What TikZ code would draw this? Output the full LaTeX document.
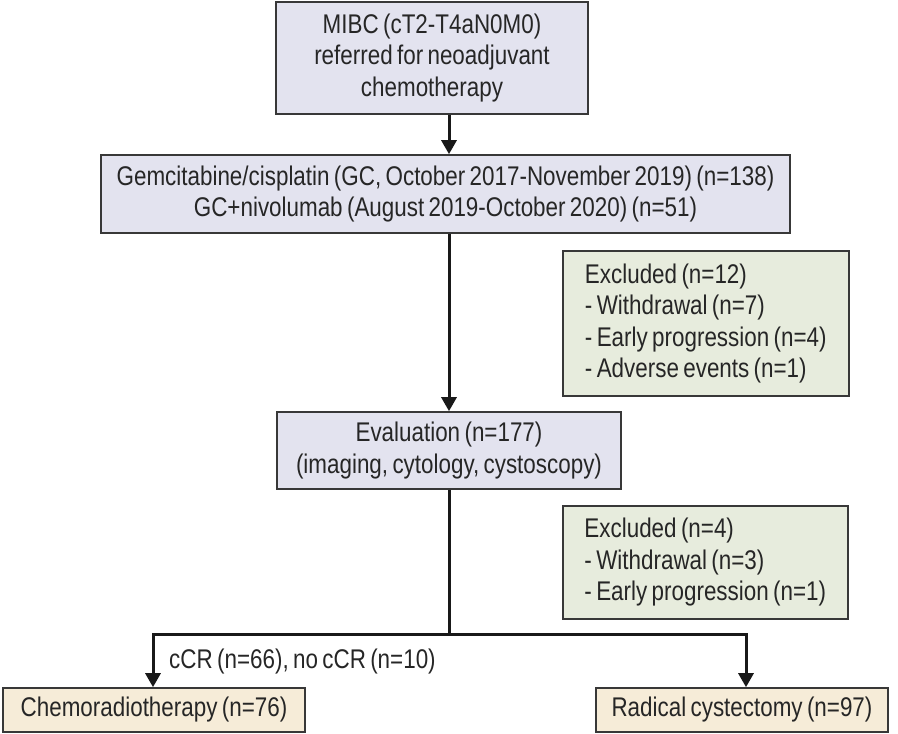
\documentclass[tikz,border=0pt]{standalone}
\usepackage{fontspec}
\setmainfont[FakeStretch=0.83,WordSpace=0.7]{Liberation Sans}
\usepackage{tikz}
\usetikzlibrary{arrows.meta,positioning}
\definecolor{boxline}{HTML}{383838}
\definecolor{lavender}{HTML}{E3E3EF}
\definecolor{sage}{HTML}{E7ECDD}
\definecolor{wheat}{HTML}{F6ECD8}
\tikzset{
  flowbox/.style={draw=boxline,line width=1.6pt,inner sep=0pt,align=center,
    font=\fontsize{27}{31.5}\selectfont,text=black!85},
  mainbox/.style={flowbox,fill=lavender},
  exclbox/.style={flowbox,fill=sage,align=left,anchor=north west},
  endbox/.style={flowbox,fill=wheat},
  arr/.style={line width=3pt,black!90,-{Triangle[length=14pt,width=15pt]}},
  spine/.style={line width=3pt,black!90}
}

\begin{document}
\begin{tikzpicture}[x=1pt,y=-1pt]
  \useasboundingbox (0,0) rectangle (898,734);
  \node[mainbox,minimum width=312pt,minimum height=112pt] (mibc) at (432,58)
    {MIBC (cT2-T4aN0M0)\\referred for neoadjuvant\\chemotherapy};
  \node[mainbox,minimum width=689pt,minimum height=78pt] (gc) at (445.5,194)
    {Gemcitabine/cisplatin (GC, October 2017-November 2019) (n=138)\\GC+nivolumab (August 2019-October 2020) (n=51)};
  \node[exclbox,minimum width=286pt,minimum height=145pt] (excla) at (562,250)
    {Excluded (n=12)\\- Withdrawal (n=7)\\- Early progression (n=4)\\- Adverse events (n=1)};
  \node[mainbox,minimum width=344pt,minimum height=77pt] (eval) at (449,450.5)
    {Evaluation (n=177)\\(imaging, cytology, cystoscopy)};
  \node[exclbox,minimum width=285pt,minimum height=113pt] (exclb) at (562,505)
    {Excluded (n=4)\\- Withdrawal (n=3)\\- Early progression (n=1)};
  \node[endbox,minimum width=302pt,minimum height=44pt] (crt) at (154,710)
    {Chemoradiotherapy (n=76)};
  \node[endbox,minimum width=292pt,minimum height=44pt] (rc) at (742,710)
    {Radical cystectomy (n=97)};

  \coordinate (split) at (449,634);
  \coordinate (splitl) at (153,634);
  \coordinate (splitr) at (746,634);

  \draw[arr] (mibc.south -| eval.north) -- (gc.north -| eval.north);
  \draw[arr] (gc.south -| eval.north) -- (eval.north);
  \draw[spine] (eval.south) -- (split);
  \draw[arr] (split) -- (splitl) -- (splitl |- crt.north);
  \draw[arr] (split) -- (splitr) -- (splitr |- rc.north);
  \node[anchor=west,font=\fontsize{27}{31.5}\selectfont,text=black!85,inner sep=0pt] (crlabel) at (169,662)
    {cCR (n=66), no cCR (n=10)};
\end{tikzpicture}
\end{document}
